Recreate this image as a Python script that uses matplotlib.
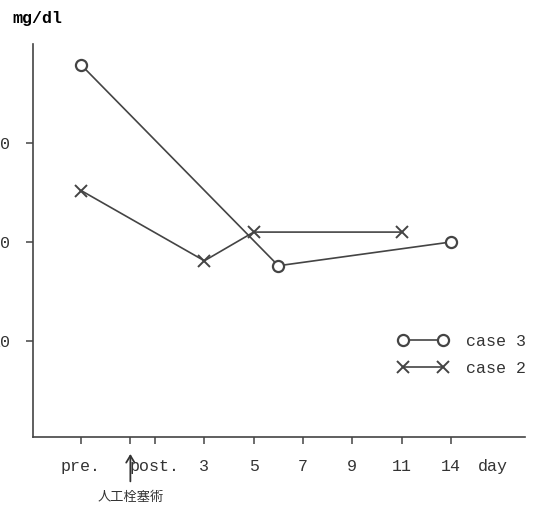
import numpy as np
import matplotlib.pyplot as plt

# x axis: non-linear day scale as drawn in the original
tick_days = [-1, 0, 1, 3, 5, 7, 9, 11, 14]
tick_pos = [0, 1, 1.5, 2.5, 3.5, 4.5, 5.5, 6.5, 7.5]
tick_labels = ['pre.', '', 'post.', '3', '5', '7', '9', '11', '14']

# case 3 (open circles), case 2 (crosses); day -1 = pre.
case3_days = [-1, 6, 14]
case3_vals = [37.9, 17.6, 20.0]
case2_days = [-1, 3, 5, 11]
case2_vals = [25.2, 18.1, 21.0, 21.0]

y_ticks = [10, 20, 30]


def day_x(days):
    return np.interp(days, tick_days, tick_pos)


W, H = 537, 505
fig = plt.figure(figsize=(W / 100, H / 100), dpi=100)
ax = fig.add_axes([33 / W, 1 - 437 / H, (525 - 33) / W, (437 - 44) / H])

mono = 'Liberation Mono'
ink = '#444444'

ax.plot(day_x(case3_days), case3_vals, color=ink, lw=1.2, marker='o', ms=8,
        mfc='white', mec=ink, mew=1.6, label='case 3')
ax.plot(day_x(case2_days), case2_vals, color=ink, lw=1.2, marker='x', ms=8,
        mec=ink, mew=1.4, label='case 2')

ax.set_xlim(-0.974, 9.0)
ax.set_ylim(0.3, 40)

for s in ['top', 'right']:
    ax.spines[s].set_visible(False)
for s in ['left', 'bottom']:
    ax.spines[s].set_color(ink)
    ax.spines[s].set_linewidth(1.2)

ax.set_xticks(tick_pos)
ax.set_xticklabels(tick_labels, fontfamily=mono, fontsize=12, color='#333333')
ax.set_yticks(y_ticks)
ax.set_yticklabels([str(v) for v in y_ticks], fontfamily=mono, fontsize=12,
                   color='#333333')
ax.tick_params(axis='x', length=5, width=1.1, color=ink, pad=11)
ax.tick_params(axis='y', length=5, width=1.1, color=ink, pad=11)

ax.text((493 - 33) / 492, -0.075, 'day', transform=ax.transAxes,
        fontfamily=mono, fontsize=12, color='#333333', ha='center',
        va='center')
fig.text(12 / W, 1 - 18 / H, 'mg/dl', fontfamily=mono, fontsize=12,
         fontweight='bold', ha='left', va='center')

# operation marker below the axis
ax.annotate('', xy=(1, -0.036), xycoords=('data', 'axes fraction'),
            xytext=(1, -0.12), textcoords=('data', 'axes fraction'),
            arrowprops=dict(arrowstyle='->,head_length=0.5,head_width=0.3',
                            color='#333333', lw=1.3),
            annotation_clip=False)
ax.text(1, -0.155, '人工栓塞術', transform=ax.get_xaxis_transform(),
        fontfamily=['Noto Sans CJK JP', 'DejaVu Sans'], fontsize=9.5,
        color='#333333', ha='center', va='center')

ax.legend(loc='upper left', bbox_to_anchor=(398 / W, 1 - 334 / H),
          bbox_transform=fig.transFigure, frameon=False, numpoints=2,
          handlelength=3.0, handletextpad=1.05, labelspacing=0.7,
          borderpad=0, borderaxespad=0,
          prop={'family': mono, 'size': 12}, labelcolor='#333333')

fig.savefig('out.png', dpi=100)
